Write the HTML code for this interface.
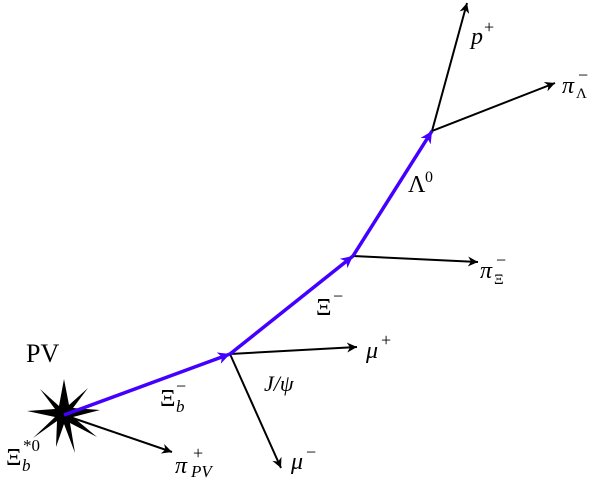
<!DOCTYPE html>
<html><head><style>
html,body{margin:0;padding:0;background:#fff;}
svg{display:block;}
text{font-family:"Liberation Serif","DejaVu Serif",serif;fill:#000;}
.i{font-style:italic;}
</style></head><body>
<svg width="600" height="480" viewBox="0 0 600 480" xmlns="http://www.w3.org/2000/svg">
<defs>
<marker id="ab" markerWidth="12" markerHeight="10" refX="10" refY="5" orient="auto" markerUnits="userSpaceOnUse">
<path d="M0,0 L10,5 L0,10 L3,5 Z" fill="#000"/></marker>
<marker id="au" markerWidth="14" markerHeight="12" refX="12" refY="6" orient="auto" markerUnits="userSpaceOnUse">
<path d="M0,0 L12,6 L0,12 L3.5,6 Z" fill="#4400ff"/></marker>
</defs>
<!-- star -->
<polygon fill="#000" points="64,379 69,405 88,388 73,408 100,410 73,417 97,437 70,423 75,453 64,424 56,447 57,421 33,438 55,417 27,411 55,409 40,389 59,406"/>
<!-- black arrows -->
<g stroke="#000" stroke-width="2" fill="none">
<line x1="64" y1="415" x2="172" y2="452" marker-end="url(#ab)"/>
<line x1="230" y1="354" x2="357" y2="347" marker-end="url(#ab)"/>
<line x1="230" y1="354" x2="281" y2="468" marker-end="url(#ab)"/>
<line x1="353" y1="256" x2="478" y2="262" marker-end="url(#ab)"/>
<line x1="432" y1="131" x2="467" y2="3" marker-end="url(#ab)"/>
<line x1="432" y1="131" x2="555" y2="83" marker-end="url(#ab)"/>
</g>
<!-- blue -->
<g stroke="#4400ff" stroke-width="3.5" fill="none">
<line x1="64" y1="415" x2="230" y2="354" marker-end="url(#au)"/>
<line x1="230" y1="354" x2="353" y2="256" marker-end="url(#au)"/>
<line x1="353" y1="256" x2="432" y2="131" marker-end="url(#au)"/>
</g>
<!-- labels -->
<text x="26" y="362" font-size="26">PV</text>
<text x="6" y="465" font-size="24">Ξ</text><text x="22" y="471" font-size="17" class="i">b</text><text x="23" y="451" font-size="17">*0</text>
<text x="175" y="473" font-size="24" class="i">π</text><text x="193" y="459" font-size="18">+</text><text x="191" y="477" font-size="17" class="i">PV</text>
<text x="160" y="406" font-size="24">Ξ</text><text x="176" y="412" font-size="17" class="i">b</text><text x="176" y="392" font-size="18">−</text>
<text x="264" y="391" font-size="22" class="i">J/ψ</text>
<text x="366" y="358" font-size="24" class="i">μ</text><text x="381" y="346" font-size="18">+</text>
<text x="291" y="469" font-size="24" class="i">μ</text><text x="306" y="458" font-size="18">−</text>
<text x="316" y="315" font-size="24">Ξ</text><text x="333" y="302" font-size="18">−</text>
<text x="480" y="278" font-size="24" class="i">π</text><text x="494" y="284" font-size="15">Ξ</text><text x="496" y="266" font-size="18">−</text>
<text x="408" y="192" font-size="24">Λ</text><text x="425" y="182" font-size="16">0</text>
<text x="471" y="44" font-size="24" class="i">p</text><text x="484" y="33" font-size="18">+</text>
<text x="562" y="93" font-size="24" class="i">π</text><text x="576" y="98" font-size="15">Λ</text><text x="578" y="81" font-size="18">−</text>
</svg>
</body></html>
